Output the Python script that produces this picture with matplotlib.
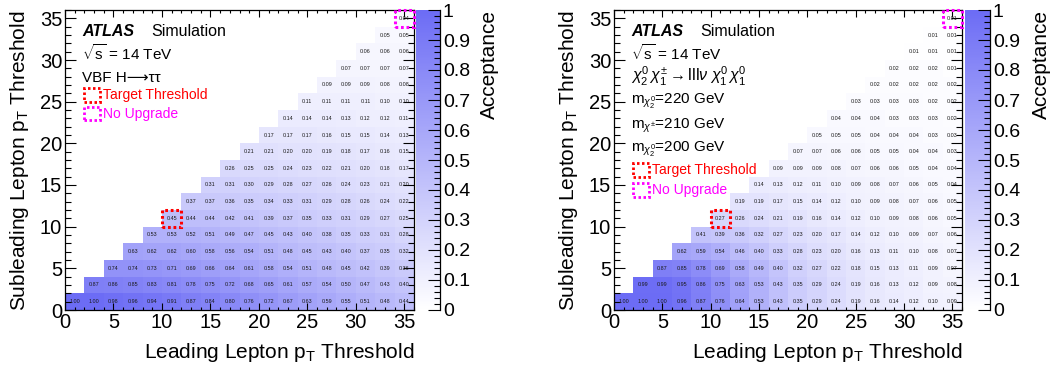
import numpy as np
import matplotlib
matplotlib.use('Agg')
import matplotlib.pyplot as plt
from matplotlib.colors import LinearSegmentedColormap
from matplotlib.patches import Rectangle
from matplotlib.ticker import MultipleLocator, FuncFormatter

plt.rcParams['font.family'] = ['Liberation Sans', 'DejaVu Sans']
plt.rcParams['mathtext.fontset'] = 'custom'
plt.rcParams['mathtext.rm'] = 'Liberation Sans'
plt.rcParams['mathtext.it'] = 'Liberation Sans:italic'
plt.rcParams['mathtext.bf'] = 'Liberation Sans:bold'

# ---------------- data ----------------
bin_edges = [0, 2, 4, 6, 8, 10, 12, 14, 16, 18, 20, 22, 24, 26, 28, 30, 32, 34, 36]

# row j (subleading bin j) lists values for leading bins i = j..17
vbf_rows = [
    [1.00, 1.00, 0.98, 0.96, 0.94, 0.91, 0.87, 0.84, 0.80, 0.76, 0.72, 0.67, 0.63, 0.59, 0.55, 0.51, 0.48, 0.44],
    [0.87, 0.86, 0.85, 0.83, 0.81, 0.78, 0.75, 0.72, 0.68, 0.65, 0.61, 0.57, 0.54, 0.50, 0.47, 0.43, 0.40],
    [0.74, 0.74, 0.73, 0.71, 0.69, 0.66, 0.64, 0.61, 0.58, 0.54, 0.51, 0.48, 0.45, 0.42, 0.39, 0.36],
    [0.63, 0.62, 0.62, 0.60, 0.58, 0.56, 0.54, 0.51, 0.48, 0.45, 0.43, 0.40, 0.37, 0.35, 0.32],
    [0.53, 0.53, 0.52, 0.51, 0.49, 0.47, 0.45, 0.43, 0.40, 0.38, 0.35, 0.33, 0.31, 0.28],
    [0.45, 0.44, 0.44, 0.42, 0.41, 0.39, 0.37, 0.35, 0.33, 0.31, 0.29, 0.27, 0.25],
    [0.37, 0.37, 0.36, 0.35, 0.34, 0.33, 0.31, 0.29, 0.28, 0.26, 0.24, 0.22],
    [0.31, 0.31, 0.30, 0.29, 0.28, 0.27, 0.26, 0.24, 0.23, 0.21, 0.20],
    [0.26, 0.25, 0.25, 0.24, 0.23, 0.22, 0.21, 0.20, 0.18, 0.17],
    [0.21, 0.21, 0.20, 0.20, 0.19, 0.18, 0.17, 0.16, 0.15],
    [0.17, 0.17, 0.17, 0.16, 0.15, 0.15, 0.14, 0.13],
    [0.14, 0.14, 0.14, 0.13, 0.12, 0.12, 0.11],
    [0.11, 0.11, 0.11, 0.11, 0.10, 0.10],
    [0.09, 0.09, 0.09, 0.08, 0.08],
    [0.07, 0.07, 0.07, 0.07],
    [0.06, 0.06, 0.06],
    [0.05, 0.05],
    [0.04],
]

susy_rows = [
    [1.00, 1.00, 1.00, 0.96, 0.87, 0.76, 0.64, 0.53, 0.43, 0.35, 0.29, 0.24, 0.19, 0.16, 0.14, 0.12, 0.10, 0.09],
    [0.99, 0.99, 0.95, 0.86, 0.75, 0.63, 0.53, 0.43, 0.35, 0.29, 0.24, 0.19, 0.16, 0.13, 0.12, 0.09, 0.08],
    [0.87, 0.85, 0.78, 0.69, 0.58, 0.49, 0.40, 0.32, 0.27, 0.22, 0.18, 0.15, 0.13, 0.11, 0.09, 0.07],
    [0.62, 0.59, 0.54, 0.46, 0.40, 0.33, 0.28, 0.23, 0.20, 0.16, 0.13, 0.11, 0.10, 0.08, 0.07],
    [0.41, 0.39, 0.36, 0.32, 0.27, 0.23, 0.20, 0.17, 0.14, 0.12, 0.10, 0.09, 0.07, 0.06],
    [0.27, 0.26, 0.24, 0.21, 0.19, 0.16, 0.14, 0.12, 0.10, 0.09, 0.08, 0.06, 0.05],
    [0.19, 0.19, 0.17, 0.15, 0.14, 0.12, 0.10, 0.09, 0.08, 0.07, 0.06, 0.05],
    [0.14, 0.13, 0.12, 0.11, 0.10, 0.09, 0.08, 0.07, 0.06, 0.05, 0.04],
    [0.09, 0.09, 0.09, 0.08, 0.07, 0.06, 0.06, 0.05, 0.04, 0.04],
    [0.07, 0.07, 0.06, 0.06, 0.05, 0.05, 0.04, 0.04, 0.03],
    [0.05, 0.05, 0.05, 0.04, 0.04, 0.04, 0.03, 0.03],
    [0.04, 0.04, 0.04, 0.03, 0.03, 0.03, 0.02],
    [0.03, 0.03, 0.03, 0.03, 0.02, 0.02],
    [0.02, 0.02, 0.02, 0.02, 0.02],
    [0.02, 0.02, 0.02, 0.01],
    [0.01, 0.01, 0.01],
    [0.01, 0.01],
    [0.01],
]

target_cell = (10, 10)      # lower-left corner of target threshold bin
noupgrade_cell = (34, 34)   # lower-left corner of "no upgrade" bin

cbar_ticks = [0, 0.1, 0.2, 0.3, 0.4, 0.5, 0.6, 0.7, 0.8, 0.9, 1.0]

# ---------------- style ----------------
W, H = 1054, 372
cmap = LinearSegmentedColormap.from_list('acc', [(1, 1, 1), (108/255, 108/255, 245/255)])
RED = '#ff0000'
MAG = '#ff00ff'
DOT = (0, (0.9, 0.9))


def build_matrix(rows):
    n = len(bin_edges) - 1
    Z = np.full((n, n), np.nan)
    for j, row in enumerate(rows):
        for k, v in enumerate(row):
            Z[j, j + k] = v
    return np.ma.masked_invalid(Z)


def draw_panel(fig, ax_rect, cax_rect, rows, text_lines, legend_y):
    ax = fig.add_axes(ax_rect)
    cax = fig.add_axes(cax_rect)
    Z = build_matrix(rows)
    mesh = ax.pcolormesh(bin_edges, bin_edges, Z, cmap=cmap, vmin=0, vmax=1,
                         shading='flat', edgecolors='none')
    centers = [(bin_edges[i] + bin_edges[i + 1]) / 2 for i in range(len(bin_edges) - 1)]
    for j, row in enumerate(rows):
        for k, v in enumerate(row):
            ax.text(centers[j + k], centers[j], f'{v:.2f}', ha='center', va='center',
                    fontsize=3.9, color='#1a1a1a')
    ax.set_xlim(0, 36)
    ax.set_ylim(0, 36)
    ax.xaxis.set_major_locator(MultipleLocator(5))
    ax.xaxis.set_minor_locator(MultipleLocator(1))
    ax.yaxis.set_major_locator(MultipleLocator(5))
    ax.yaxis.set_minor_locator(MultipleLocator(1))
    ax.tick_params(axis='both', which='both', direction='in', top=True, right=True,
                   labelsize=14.5, pad=2, width=0.8)
    ax.tick_params(axis='x', which='major', length=5)
    ax.tick_params(axis='x', which='minor', length=2.5)
    ax.tick_params(axis='y', which='major', length=8)
    ax.tick_params(axis='y', which='minor', length=4.5)
    for s in ax.spines.values():
        s.set_linewidth(0.9)
    ax.set_xlabel(r'Leading Lepton p$_{\mathrm{T}}$ Threshold', fontsize=15, loc='right')
    ax.xaxis.set_label_coords(1.0, -0.105)
    ax.set_ylabel(r'Subleading Lepton p$_{\mathrm{T}}$ Threshold', fontsize=15, loc='top')
    ax.yaxis.set_label_coords(-0.097, 1.0)

    # highlighted cells
    ax.add_patch(Rectangle(target_cell, 2, 2, fill=False, edgecolor=RED, lw=2.2,
                           linestyle=DOT, clip_on=False, zorder=5))
    ax.add_patch(Rectangle(noupgrade_cell, 2, 2, fill=False, edgecolor=MAG, lw=2.2,
                           linestyle=DOT, clip_on=False, zorder=5))

    # ATLAS label
    ax.text(1.8, 32.9, 'ATLAS', fontsize=11.5, fontweight='bold', fontstyle='italic',
            va='baseline', ha='left')
    ax.text(8.95, 32.9, 'Simulation', fontsize=11.5, va='baseline', ha='left')
    for (y, s, fs) in text_lines:
        ax.text(1.8, y, s, fontsize=fs, va='baseline', ha='left')

    # legend entries
    ry, my = legend_y
    ax.add_patch(Rectangle((1.95, ry - 0.3), 1.65, 1.6, fill=False, edgecolor=RED, lw=2,
                           linestyle=DOT, zorder=5))
    ax.text(3.95, ry, 'Target Threshold', color=RED, fontsize=10, va='baseline', ha='left')
    ax.add_patch(Rectangle((1.95, my - 0.3), 1.65, 1.6, fill=False, edgecolor=MAG, lw=2,
                           linestyle=DOT, zorder=5))
    ax.text(3.95, my, 'No Upgrade', color=MAG, fontsize=10, va='baseline', ha='left')

    # colour bar
    cb = fig.colorbar(mesh, cax=cax, ticks=cbar_ticks)
    cb.outline.set_visible(False)
    cax.spines['right'].set_visible(True)
    cax.spines['right'].set_linewidth(0.9)
    cax.yaxis.set_minor_locator(MultipleLocator(0.02))
    cax.yaxis.set_major_formatter(FuncFormatter(lambda v, p: f'{v:g}'))
    cax.tick_params(axis='y', which='both', direction='in', right=True, left=False,
                    labelsize=14, pad=2, width=0.8)
    cax.tick_params(axis='y', which='major', length=9)
    cax.tick_params(axis='y', which='minor', length=4.5)
    cax.yaxis.set_label_position('right')
    cax.set_ylabel('Acceptance', fontsize=15, loc='top')
    cax.yaxis.set_label_coords(2.68, 1.0)
    return ax


fig = plt.figure(figsize=(W / 100, H / 100), dpi=100)

bottom = 62 / H
height = 300 / H

draw_panel(fig,
           [65 / W, bottom, 349 / W, height],
           [416 / W, bottom, 24 / W, height],
           vbf_rows,
           [(30.0, r'$\sqrt{\mathrm{s}}$ = 14 TeV', 11),
            (27.4, 'VBF H\u27f6\u03c4\u03c4', 11)],
           (25.3, 23.1))

draw_panel(fig,
           [614 / W, bottom, 348 / W, height],
           [965 / W, bottom, 25 / W, height],
           susy_rows,
           [(30.0, r'$\sqrt{\mathrm{s}}$ = 14 TeV', 11),
            (27.4, r'$\chi^{0}_{2}\,\chi^{\pm}_{1} \rightarrow \mathrm{lll}\nu\ \chi^{0}_{1}\,\chi^{0}_{1}$', 11.5),
            (24.8, r'm$_{\chi^{0}_{2}}$=220 GeV', 11),
            (21.8, r'm$_{\chi^{\pm}}$=210 GeV', 11),
            (19.0, r'm$_{\chi^{0}_{2}}$=200 GeV', 11)],
           (16.3, 13.9))

fig.savefig('out.png', dpi=100)
